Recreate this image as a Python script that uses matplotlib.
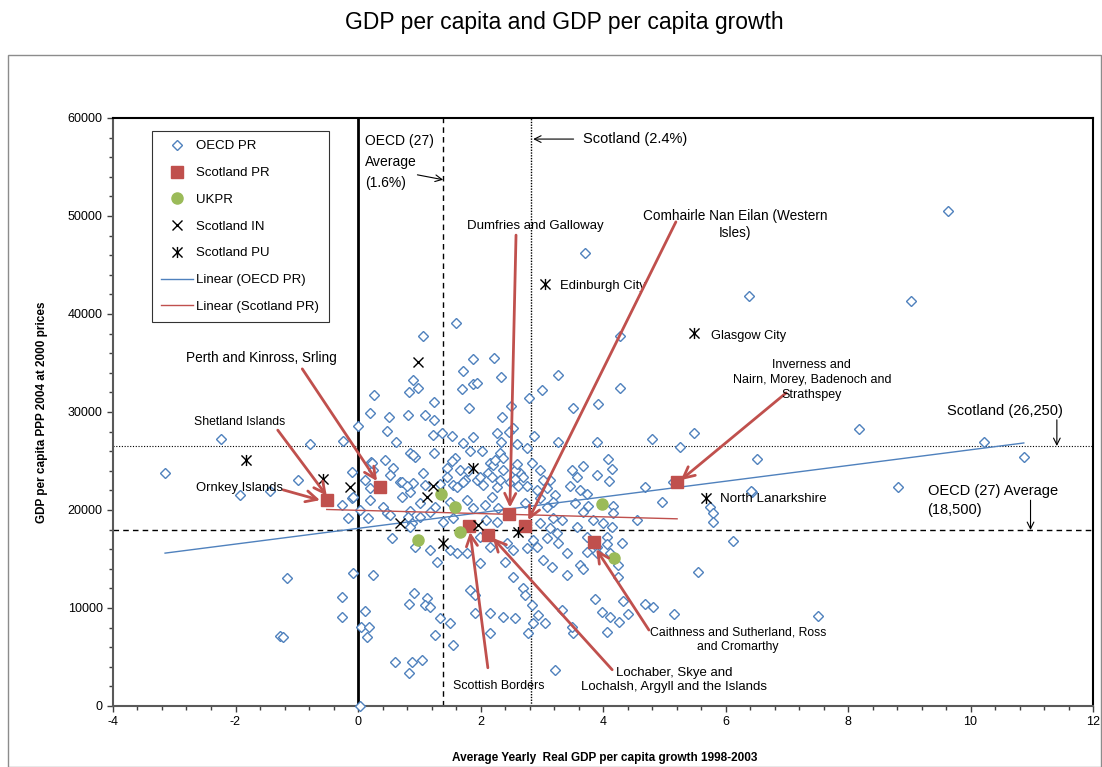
import numpy as np
import matplotlib
matplotlib.use("Agg")
import matplotlib.pyplot as plt
from matplotlib.path import Path
from matplotlib.patches import Rectangle
from matplotlib.ticker import MultipleLocator

plt.rcParams['font.family'] = ['Liberation Sans', 'DejaVu Sans']
plt.rcParams['axes.unicode_minus'] = False

# --- data ---
oecd_x = [-3.15, -2.24, -1.93, -1.44, -0.98, -0.78, -0.24, 0.0, 0.2, -0.26, -0.1, -0.1, 0.03, 0.16,
          0.21, 0.24, 0.2, -1.16, -1.27, -1.22, -0.26, -0.26, 0.11, 0.05, 0.18, 0.15, 0.03, 0.55,
          0.6, 0.88, 0.83, 0.91, 0.83, 0.93, 0.41, 0.47, 0.69, 0.85, 0.88,
          0.26, 0.51, 0.82, 0.9, 0.83, 0.47, 0.62, 0.85, 0.93, 0.23, 0.44, 0.57, 0.72, 0.52, 0.11,
          0.9, 1.06,
          1.6, 1.88, 2.22, 1.71, 2.33, 1.88, 1.94, 1.7, 3.27, 3.0, 2.79, 2.5, 3.51, 1.81, 0.98,
          1.24, 1.09, 1.24, 2.35, 2.53, 2.47, 2.87, 1.22, 1.37, 1.53, 1.88, 2.27, 1.71, 2.33,
          2.6, 2.76, 3.27, 1.24, 0.9, 2.02, 1.83, 2.32, 2.37, 1.58, 1.53, 2.16, 1.67, 1.45,
          1.06, 1.45, 1.75, 1.94, 2.12, 2.2, 2.37, 2.48, 2.64, 2.84, 2.97, 3.13, 3.49, 3.58,
          1.55, 2.04,
          4.28, 3.92, 3.9, 4.8, 1.8, 2.24, 2.56, 2.6, 2.69, 3.67, 3.9, 4.08, 4.15, 4.1, 0.8,
          1.09, 1.34, 1.62, 1.71, 1.99, 2.19, 2.27, 2.32, 2.56, 2.61, 2.76, 2.92, 3.02, 3.09,
          3.22, 3.46, 3.62, 3.74, -0.08, 0.2, 0.72, 1.01, 0.85, 1.26, 1.5, 1.78, 1.88, 2.07,
          2.29, 2.19, 2.73, 2.97, 3.09, 3.18, 3.54, 3.67, 3.76, 4.16, 4.16, 4.96, 4.69, 0.52,
          0.82, 1.01, 1.18, 0.85, 1.55, 1.39, 2.09, 2.27, 2.97, 3.13, 3.33, 3.18, 3.58, 3.84,
          4.0, 4.15, 4.56, -0.16, 1.18, 1.29, 1.62, 1.78, 1.99, 2.16, 2.43, 2.53, 2.4, 2.86,
          2.92, 3.09, 3.25, 3.27, 3.41, 3.02, 3.17, 3.74, 3.9, 4.07, 4.31, 3.74, 4.11, 4.24,
          3.62, 3.41, 0.24, -0.08,
          1.5, 1.99, 2.76, 2.53, 1.13, 1.09, 1.18, 1.83, 1.91, 2.69, 2.73, 2.84, 3.33, 1.91,
          2.16, 2.37, 2.56, 2.94, 3.05, 2.86, 1.34, 1.5, 1.26, 2.16, 1.55, 3.51, 1.04, 3.22,
          2.78,
          4.07, 3.9, 4.24, 3.67, 3.87, 4.33, 4.69, 4.82, 4.41, 3.98, 4.11, 4.26, 4.07, 5.16,
          5.55, 6.12, 5.75, 5.8, 5.8, 6.43, 3.49,
          4.28, 5.26, 5.49, 5.14, 6.51,
          3.71, 6.38, 9.63, 9.03, 8.18, 10.22, 10.87, 8.82, 6.42, 7.51]
oecd_y = [23780, 27250, 21530, 21940, 23060, 26730, 27040, 28570, 29900, 20510, 23880, 21220, 20000, 19180,
          24900, 24080, 22240, 13060, 7140, 7040, 11120, 9080, 9690, 8060, 8060, 7040, 0, 17140,
          4490, 4490, 3370, 11530, 10410, 16220, 20300, 19690, 22860, 21840, 18670,
          31730, 29490, 29690, 33270, 32040, 28060, 26940, 25820, 25410, 24800, 25100, 24290, 22860, 23570, 23060,
          22760, 37760,
          39080, 35410, 35510, 34180, 33570, 32860, 32960, 32350, 33780, 32240, 31430, 30610, 30410, 30410, 32450,
          31020, 29690, 29180, 29490, 28370, 27960, 27550, 27650, 27860, 27550, 27450, 27860, 26840, 26940,
          26730, 26330, 26940, 25820, 25610, 26020, 26020, 25820, 25310, 25310, 25000, 24800, 24080, 24290,
          23780, 23370, 23060, 23060, 23780, 24590, 24080, 22860, 23780, 24800, 24080, 23060, 24080, 23370,
          22550, 22550,
          32450, 30820, 26940, 27240, 23980, 25100, 24080, 24690, 23370, 24490, 23570, 25200, 24180, 22960, 22450,
          22550, 22660, 22350, 22860, 23370, 23370, 22350, 23060, 23160, 22450, 22450, 22040, 23060, 22240,
          21530, 22450, 22040, 21630, 21330, 21020, 21330, 20710, 19900, 20310, 20820, 21020, 20200, 20510,
          20200, 21330, 20710, 21220, 20310, 20820, 20710, 19800, 20410, 20410, 19690, 20820, 22350, 19490,
          19290, 19290, 19800, 18270, 19180, 18780, 18980, 18780, 18670, 18160, 18980, 19180, 18270, 18980,
          18670, 18270, 18980, 19180, 15920, 14690, 15610, 15610, 17240, 16220, 16630, 15920, 14690, 16940,
          16220, 17140, 17650, 16630, 15610, 14900, 14180, 17240, 16220, 17240, 16630, 15710, 15610, 14390,
          14390, 13370, 13370, 13570,
          15920, 14590, 16120, 13160, 11020, 10310, 10100, 11840, 11330, 12040, 11330, 10310, 9800, 9490,
          9490, 9080, 8980, 9290, 8470, 8470, 8980, 8470, 7240, 7450, 6220, 7450, 4690, 3670,
          7450,
          16530, 15610, 13160, 13980, 10920, 10710, 10410, 10100, 9390, 9590, 9080, 8570, 7550, 9390,
          13670, 16840, 20310, 19690, 18780, 21840, 8060,
          37760, 26430, 27860, 22860, 25200,
          46220, 41840, 50510, 41330, 28270, 26940, 25410, 22350, 21940, 9180]

# OECD linear trend as drawn in the reference (end points)
oecd_trend_x = [-3.15, 10.87]
oecd_trend_y = [15600, 26840]

scot_pr_x = [-0.51, 0.36, 2.47, 2.73, 1.81, 2.12, 3.85, 5.21]
scot_pr_y = [21020, 22350, 19590, 18370, 18370, 17450, 16730, 22860]

uk_pr_x = [1.36, 1.58, 1.67, 0.98, 3.98, 4.18]
uk_pr_y = [21630, 20310, 17760, 16940, 20610, 15100]

scot_in_x = [0.98, 1.22, 1.13, 0.69, 1.96, -0.13]
scot_in_y = [35100, 22450, 21330, 18670, 18470, 22350]

scot_pu_x = [-1.83, -0.57, 1.88, 1.39, 2.61, 3.05, 5.49, 5.68]
scot_pu_y = [25100, 23160, 24290, 16630, 17760, 43060, 38060, 21220]

oecd_avg_growth = 1.39
scot_growth = 2.82
scot_gdp = 26530
oecd_avg_gdp = 17960

BLUE = '#4F81BD'
RED = '#C0504D'
GREEN = '#9BBB59'

fig = plt.figure(figsize=(11.02, 7.67), dpi=100)
ax = fig.add_axes([113 / 1102, 1 - 706 / 767, 980 / 1102, 588 / 767])

# outer chart frame
fig.patches.append(Rectangle((8 / 1102, 0), 1093 / 1102, 1 - 55 / 767, transform=fig.transFigure,
                             fill=False, edgecolor='#8c8c8c', lw=1))

# reference lines
ax.axvline(0, color='black', lw=2, zorder=1)
ax.axvline(oecd_avg_growth, color='black', lw=1, ls=(0, (4, 3)), zorder=1)
ax.axvline(scot_growth, color='black', lw=1, ls=(0, (1, 1)), zorder=1)
ax.axhline(scot_gdp, color='black', lw=0.8, ls=(0, (1, 1.5)), zorder=1)
ax.axhline(oecd_avg_gdp, color='black', lw=1, ls=(0, (4, 3)), zorder=1)

# series
ax.plot(oecd_x, oecd_y, ls='none', marker='D', ms=5.5, mfc='white', mec=BLUE, mew=1, label='OECD PR',
        zorder=3, clip_on=False)
ax.plot(scot_pr_x, scot_pr_y, ls='none', marker='s', ms=9, color=RED, label='Scotland PR', zorder=5)
ax.plot(uk_pr_x, uk_pr_y, ls='none', marker='o', ms=8, color=GREEN, label='UKPR', zorder=5)
ax.plot(scot_in_x, scot_in_y, ls='none', marker='x', ms=7, mew=1, color='black', label='Scotland IN', zorder=6)
star = Path([(-0.5, -0.5), (0.5, 0.5), (-0.5, 0.5), (0.5, -0.5), (0, -0.55), (0, 0.55)],
            [Path.MOVETO, Path.LINETO] * 3)
ax.plot(scot_pu_x, scot_pu_y, ls='none', marker=star, ms=8, mew=1, mfc='none', mec='black',
        label='Scotland PU', zorder=6)

# linear trend lines
ax.plot(oecd_trend_x, oecd_trend_y, color=BLUE, lw=1, label='Linear (OECD PR)', zorder=4)
sx = np.array(scot_pr_x)
k2, b2 = np.polyfit(sx, scot_pr_y, 1)
xs2 = np.array([sx.min(), sx.max()])
ax.plot(xs2, k2 * xs2 + b2, color=RED, lw=1, label='Linear (Scotland PR)', zorder=4)

ax.set_xlim(-4, 12)
ax.set_ylim(0, 60000)
ax.xaxis.set_major_locator(MultipleLocator(2))
ax.xaxis.set_minor_locator(MultipleLocator(0.4))
ax.yaxis.set_major_locator(MultipleLocator(10000))
ax.yaxis.set_minor_locator(MultipleLocator(2000))
ax.tick_params(which='both', direction='out', labelsize=9, length=4, width=1, colors='#404040', labelcolor='black')
ax.tick_params(which='minor', length=3)
for s in ax.spines.values():
    s.set_color('black')
    s.set_linewidth(1.5)
ax.spines['left'].set_color('#595959')
ax.spines['bottom'].set_color('#595959')

leg = ax.legend(loc='upper left', bbox_to_anchor=(0.04, 0.978), fontsize=9.5, frameon=True,
                fancybox=False, edgecolor='black', labelspacing=1.1, handlelength=2.4,
                handletextpad=0.25, borderpad=0.7, borderaxespad=0)
leg.get_frame().set_linewidth(0.8)

fig.text(0.512, 1 - 23 / 767, 'GDP per capita and GDP per capita growth', ha='center', va='center', fontsize=16.5)
fig.text(605 / 1102, 1 - 758 / 767, 'Average Yearly  Real GDP per capita growth 1998-2003', ha='center',
         va='center', fontsize=8.5, fontweight='bold')
fig.text(42 / 1102, 1 - 412 / 767, 'GDP per capita PPP 2004 at 2000 prices', ha='center', va='center',
         rotation=90, fontsize=8.5, fontweight='bold')

# black reference annotations
blk = dict(arrowstyle='->', color='black', lw=0.8, shrinkA=0, shrinkB=0, mutation_scale=12)
ax.text(0.12, 58400, 'OECD (27)\nAverage\n(1.6%)', fontsize=10, va='top', ha='left', linespacing=1.65)
ax.annotate('', xy=(oecd_avg_growth, 53700), xytext=(0.97, 54200), arrowprops=blk)
ax.text(3.68, 57850, 'Scotland (2.4%)', fontsize=10.5, va='center', ha='left')
ax.annotate('', xy=(scot_growth + 0.04, 57850), xytext=(3.52, 57850), arrowprops=blk)
ax.text(10.56, 30150, 'Scotland (26,250)', fontsize=10.5, va='center', ha='center')
ax.annotate('', xy=(11.41, scot_gdp), xytext=(11.41, 29200), arrowprops=blk)
ax.text(9.3, 21000, 'OECD (27) Average\n(18,500)', fontsize=10.5, va='center', ha='left', linespacing=1.45)
ax.annotate('', xy=(10.98, oecd_avg_gdp), xytext=(10.98, 21000), arrowprops=blk)

# named regions
ax.text(3.3, 42900, 'Edinburgh City', fontsize=9.4, va='center', ha='left')
ax.text(5.76, 37750, 'Glasgow City', fontsize=9.2, va='center', ha='left')
ax.text(5.91, 21150, 'North Lanarkshire', fontsize=9.6, va='center', ha='left')

red = dict(arrowstyle='->', color=RED, lw=2, shrinkA=0, shrinkB=0, mutation_scale=20)
labels = [
    ('Perth and Kinross, Srling', 9.8, (-1.57, 35500), (-0.91, 34400), (0.31, 22950)),
    ('Shetland Islands', 8.8, (-1.93, 29000), (-1.31, 28150), (-0.51, 21450)),
    ('Ornkey Islands', 9.4, (-1.94, 22250), (-1.22, 22050), (-0.62, 21000)),
    ('Dumfries and Galloway', 9.5, (2.89, 48950), (2.58, 48050), (2.48, 20250)),
    ('Comhairle Nan Eilan (Western\nIsles)', 9.8, (6.16, 49150), (5.19, 49400), (2.78, 18950)),
    ('Inverness and\nNairn, Morey, Badenoch and\nStrathspey', 9.0, (7.41, 33250), (6.99, 31950), (5.27, 23050)),
    ('Scottish Borders', 8.9, (2.29, 2050), (2.12, 3900), (1.83, 17750)),
    ('Lochaber, Skye and\nLochalsh, Argyll and the Islands', 9.5, (5.16, 2650), (4.15, 3700), (2.2, 17150)),
    ('Caithness and Sutherland, Ross\nand Cromarthy', 8.8, (6.2, 6750), (4.75, 7750), (3.89, 16000)),
]
for txt, fs, tpos, a0, a1 in labels:
    ax.text(tpos[0], tpos[1], txt, fontsize=fs, ha='center', va='center', linespacing=1.3, zorder=8)
    ax.annotate('', xy=a1, xytext=a0, arrowprops=red, zorder=7)

fig.savefig('out.png', dpi=100)
